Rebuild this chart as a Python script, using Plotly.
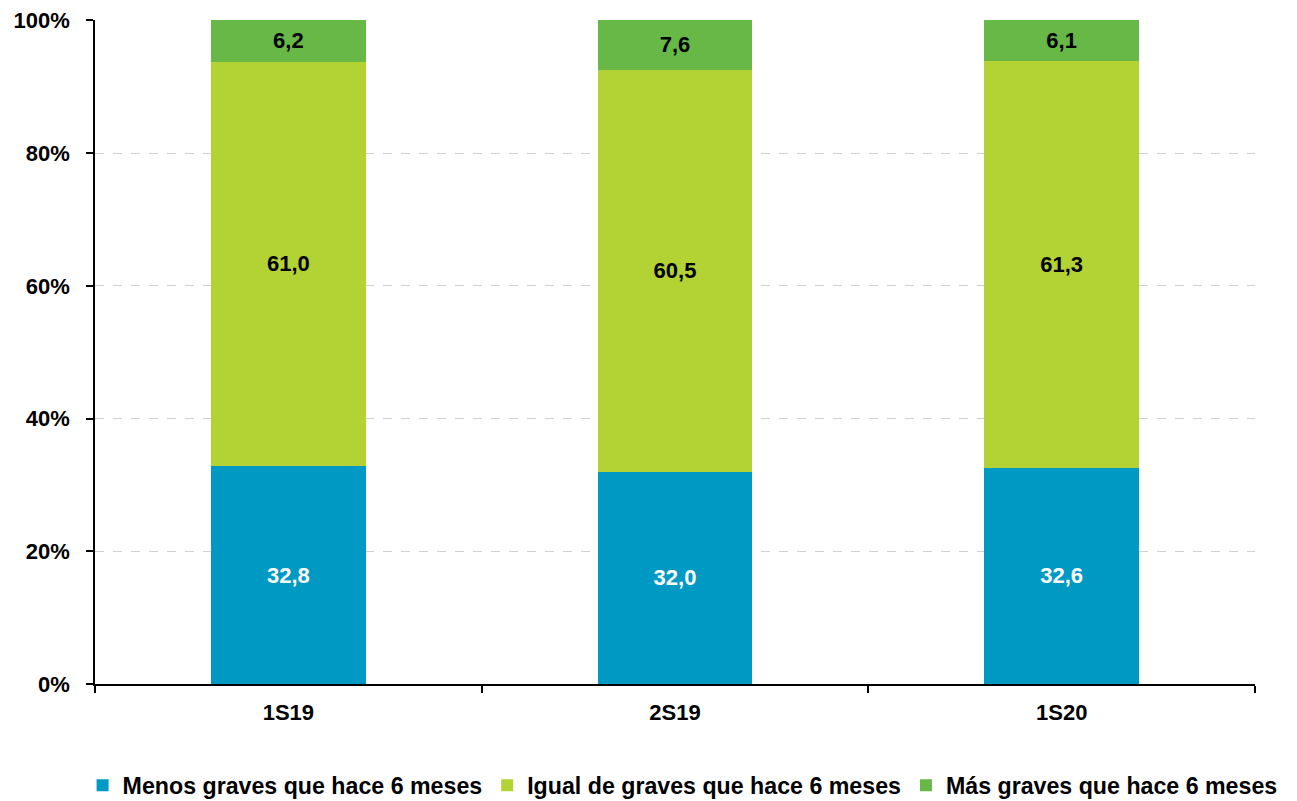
import plotly.graph_objects as go

categories = ["1S19", "2S19", "1S20"]
menos = [32.8, 32.0, 32.6]
igual = [61.0, 60.5, 61.3]
mas = [6.2, 7.6, 6.1]
series_names = ["Menos graves que hace 6 meses", "Igual de graves que hace 6 meses", "Más graves que hace 6 meses"]
colors = ["#0099C4", "#B3D335", "#67B847"]
label_colors = ["white", "black", "black"]
y_ticks = [0, 20, 40, 60, 80, 100]
y_tick_labels = ["0%", "20%", "40%", "60%", "80%", "100%"]

FONT = "Liberation Sans, Arial, sans-serif"

fig = go.Figure()
for name, vals, col, lc in zip(series_names, [menos, igual, mas], colors, label_colors):
    fig.add_trace(go.Bar(
        x=categories, y=vals, name=f"<b>{name}</b>",
        marker=dict(color=col, line=dict(width=0)),
        width=0.4,
        text=[f"{v:.1f}".replace(".", ",") for v in vals],
        texttemplate="<b>%{text}</b>",
        textposition="inside", insidetextanchor="middle",
        textfont=dict(family=FONT, size=22, color=lc),
        constraintext="none",
    ))

fig.update_layout(
    barmode="stack",
    width=1297, height=801,
    margin=dict(l=87, r=50, t=12, b=125, autoexpand=False),
    plot_bgcolor="white", paper_bgcolor="white",
    font=dict(family=FONT, size=22, color="black"),
    legend=dict(orientation="h",
                x=-0.0107, xanchor="left", y=-0.12, yanchor="top",
                font=dict(family=FONT, size=23.2, color="black"),
                traceorder="normal", itemwidth=30),
    showlegend=True,
)
fig.update_xaxes(
    automargin=False,
    tickvals=categories, ticktext=[f"<b>{c}</b>" for c in categories],
    showline=True, linecolor="black", linewidth=1.5,
    ticks="outside", tickson="boundaries", ticklen=7, tickcolor="black", tickwidth=1.5,
    tickfont=dict(family=FONT, size=22, color="black"),
    ticklabelstandoff=8,
    showgrid=False,
)
fig.update_yaxes(
    automargin=False,
    range=[0, 100.06], tickvals=y_ticks, ticktext=[f"<b>{t}</b>" for t in y_tick_labels],
    showline=True, linecolor="black", linewidth=1.5,
    ticks="outside", ticklen=7, tickcolor="black", tickwidth=1.5,
    tickfont=dict(family=FONT, size=22, color="black"),
    ticklabelstandoff=12, ticklabeloverflow="allow",
    showgrid=True, gridcolor="#D0D0D0", griddash="dash", gridwidth=1,
    zeroline=False,
)

fig.write_html("out.html")
